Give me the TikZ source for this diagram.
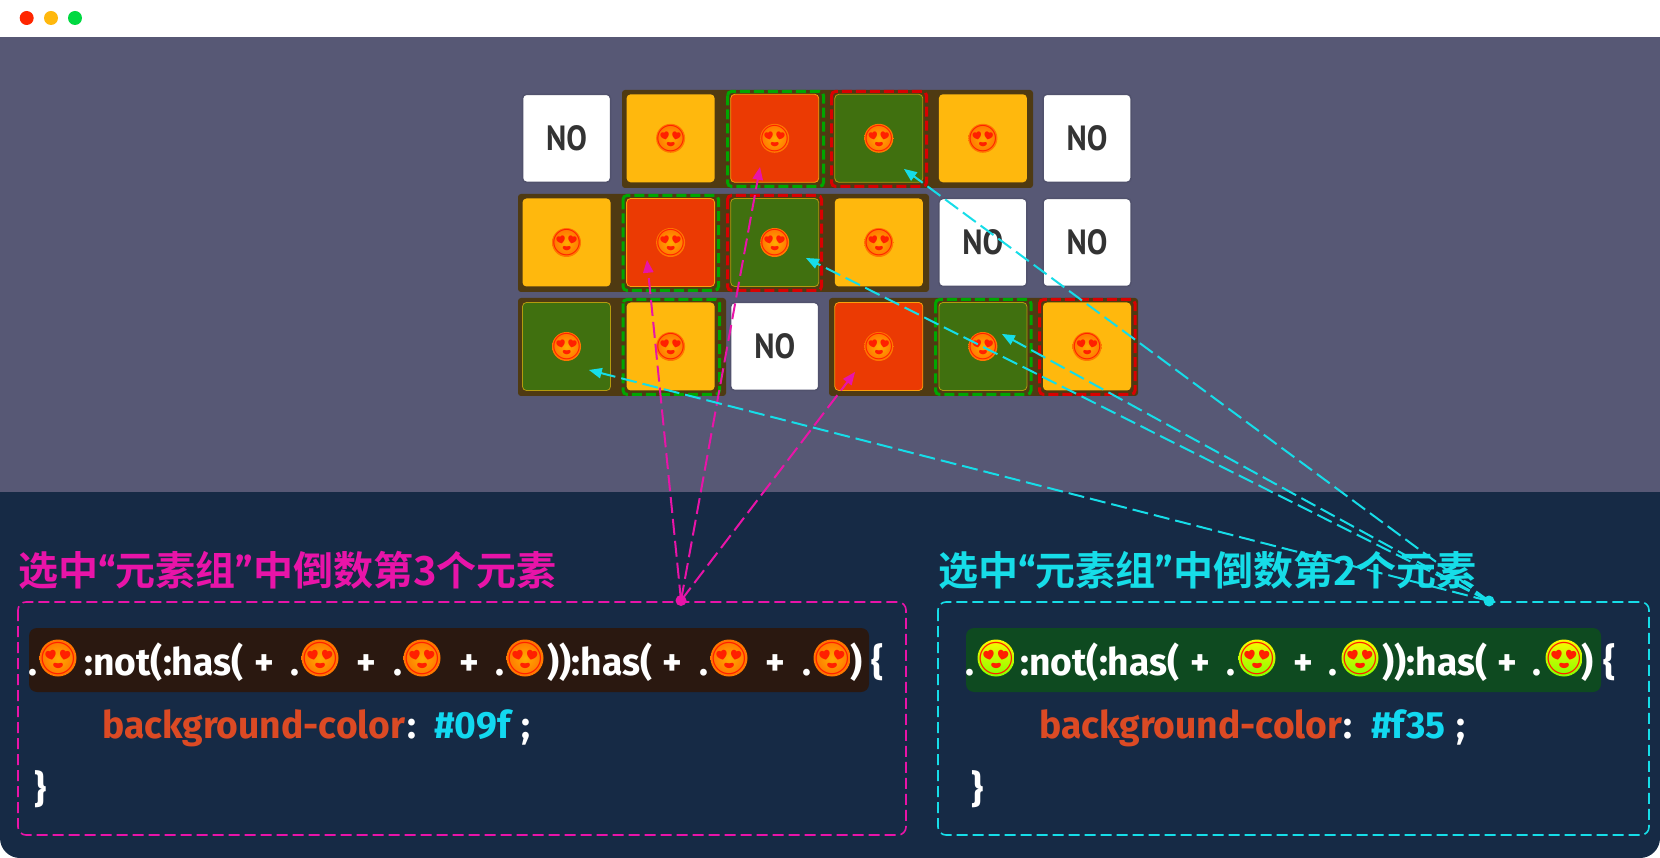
\documentclass[tikz,border=0pt]{standalone}
\usepackage{fontspec}
\setmainfont{Fira Sans}[FakeStretch=0.98,BoldFont=* Bold]
\newfontfamily\cjkfont{Noto Sans CJK SC Bold}
\newfontfamily\emojifont{Noto Emoji}
\newfontfamily\cellfont{PT Sans Bold}[FakeStretch=0.88]
\usetikzlibrary{arrows,calc,shapes.misc}

\definecolor{PanelTop}{HTML}{575875}
\definecolor{PanelLow}{HTML}{162A45}
\definecolor{CellY}{HTML}{FFB80D}
\definecolor{CellR}{HTML}{EB3A03}
\definecolor{CellG}{HTML}{40700F}
\definecolor{Halo}{HTML}{4F3A12}
\definecolor{Pink}{HTML}{E814A8}
\definecolor{Cyan}{HTML}{16DDE8}
\definecolor{KeyRed}{HTML}{DC4A24}
\definecolor{ValBlue}{HTML}{12D8F0}
\definecolor{BandL}{HTML}{2A1810}
\definecolor{BandR}{HTML}{0E4A20}

% glyph of the face, kept from taking any room in its node
\newcommand{\loveface}[1]{{\emojifont\fontsize{#1}{#1}\selectfont\makebox[0pt]{\raisebox{-0.36em}[0pt][0pt]{😍}}}}

\tikzset{
  cell/.style={rounded corners=4pt,minimum width=88pt,minimum height=88pt,inner sep=0pt,font=\fontsize{35}{35}\cellfont,text=black!80},
  nocell/.style={cell,fill=white,draw=PanelTop!93!black,line width=1.5pt},
  ycell/.style={cell,fill=CellY},
  rcell/.style={cell,fill=CellR,draw=CellY!80!CellR,line width=0.8pt},
  gcell/.style={cell,fill=CellG,draw=CellY!60!CellG,line width=0.8pt},
  band/.style={fill=Halo,rounded corners=3pt},
  dashgreen/.style={draw=green!65!black,line width=3pt,rounded corners=4pt,dash pattern=on 10pt off 4pt},
  dashred/.style={draw=red!85!black,line width=3pt,rounded corners=4pt,dash pattern=on 10pt off 4pt},
  face/.style={circle,inner sep=0pt,minimum size=29pt,text=red!75!orange,shading=radial,inner color=orange!65!yellow,outer color=orange!90!red},
  bigface/.style={face,minimum size=37pt},
  greenface/.style={circle,inner sep=0pt,minimum size=37pt,text=red!75!orange,shading=axis,top color=yellow!95!orange,bottom color=lime!70!green},
  code/.style={inner sep=0pt,anchor=base,font=\fontsize{38}{38}\selectfont\bfseries,text=white},
  title/.style={inner sep=0pt,anchor=base west,font=\fontsize{40}{40}\cjkfont},
  link/.style={->,>=triangle 45,line width=2pt,dash pattern=on 16pt off 6pt},
}

\begin{document}
\begin{tikzpicture}[x=1pt,y=-1pt]
\useasboundingbox (0,0) rectangle (1660,858);

% window
\fill[white] (0,0) rectangle (1660,858);
\fill[PanelTop] (0,37) rectangle (1660,493);
\fill[PanelLow,rounded corners=20pt] (0,492) -- (0,858) -- (1660,858) -- (1660,492) -- cycle;
\fill[PanelLow] (0,492) rectangle (1660,520);
\fill[red!70!orange] (26.7,18) circle (7);
\fill[CellY] (51,18) circle (7);
\fill[green!70!cyan!85!black] (75,18) circle (7);

% bands behind the cells
\fill[band] (622,90) rectangle (1033,188);
\fill[band] (518,194) rectangle (929,292);
\fill[band] (518,298) rectangle (726,396);
\fill[band] (829,298) rectangle (1138,396);

% first row
\node[nocell] (a1) at (566.5,138.3) {NO};
\node[ycell] (a2) at (670.6,138.3) {};
\node[rcell] (a3) at (774.7,138.3) {};
\node[gcell] (a4) at (878.8,138.3) {};
\node[ycell] (a5) at (982.9,138.3) {};
\node[nocell] (a6) at (1087,138.3) {NO};

% second row
\node[ycell] (b1) at (566.5,242.5) {};
\node[rcell] (b2) at (670.6,242.5) {};
\node[gcell] (b3) at (774.7,242.5) {};
\node[ycell] (b4) at (878.8,242.5) {};
\node[nocell] (b5) at (982.9,242.5) {NO};
\node[nocell] (b6) at (1087,242.5) {NO};

% third row
\node[gcell] (c1) at (566.5,346.5) {};
\node[ycell] (c2) at (670.6,346.5) {};
\node[nocell] (c3) at (774.7,346.5) {NO};
\node[rcell] (c4) at (878.8,346.5) {};
\node[gcell] (c5) at (982.9,346.5) {};
\node[ycell] (c6) at (1087,346.5) {};

% dashed outlines
\draw[dashgreen] (727.5,91.5) rectangle (823.5,186.5);
\draw[dashred] (831.5,91.5) rectangle (926.5,186.5);
\draw[dashgreen] (623,195.5) rectangle (718.5,290.5);
\draw[dashred] (727.5,195.5) rectangle (821.5,290.5);
\draw[dashgreen] (623,299.5) rectangle (719.5,394.5);
\draw[dashgreen] (935.5,299.5) rectangle (1031,394.5);
\draw[dashred] (1039.5,299.5) rectangle (1135,394.5);

% faces in the cells
\node[face] (fa2) at (a2) {\loveface{26}};
\node[face] (fa3) at (a3) {\loveface{26}};
\node[face] (fa4) at (a4) {\loveface{26}};
\node[face] (fa5) at (a5) {\loveface{26}};
\node[face] (fb1) at (b1) {\loveface{26}};
\node[face] (fb2) at (b2) {\loveface{26}};
\node[face] (fb3) at (b3) {\loveface{26}};
\node[face] (fb4) at (b4) {\loveface{26}};
\node[face] (fc1) at (c1) {\loveface{26}};
\node[face] (fc2) at (c2) {\loveface{26}};
\node[face] (fc4) at (c4) {\loveface{26}};
\node[face] (fc5) at (c5) {\loveface{26}};
\node[face] (fc6) at (c6) {\loveface{26}};

% titles
\node[title,text=Pink] (titleL) at (18,585) {选中{\rmfamily\bfseries “}元素组{\rmfamily\bfseries ”}中倒数第3个元素};
\node[title,text=Cyan] (titleR) at (938,585) {选中{\rmfamily\bfseries “}元素组{\rmfamily\bfseries ”}中倒数第2个元素};

% boxes
\draw[Pink,line width=1.6pt,rounded corners=8pt,dash pattern=on 11pt off 5pt] (18,602) rectangle (906,835);
\draw[Cyan,line width=1.6pt,rounded corners=8pt,dash pattern=on 11pt off 5pt] (938,602) rectangle (1649,835);
\fill[BandL,rounded corners=8pt] (29,628) rectangle (869,692);
\fill[BandR,rounded corners=8pt] (966,628) rectangle (1601,692);

% left rule
\node[code] (l1) at (33,675) {.};
\node[bigface] (l2) at (58,658) {\loveface{32}};
\node[code] (l3) at (164,675) {:not(:has(};
\node[code] (l4) at (264,675) {+};
\node[code] (l5) at (295,675) {.};
\node[bigface] (l6) at (320,658) {\loveface{32}};
\node[code] (l7) at (366,675) {+};
\node[code] (l8) at (398,675) {.};
\node[bigface] (l9) at (422,658) {\loveface{32}};
\node[code] (l10) at (469,675) {+};
\node[code] (l11) at (500,675) {.};
\node[bigface] (l12) at (525,658) {\loveface{32}};
\node[code] (l13) at (600,675) {)):has(};
\node[code] (l14) at (672,675) {+};
\node[code] (l15) at (704,675) {.};
\node[bigface] (l16) at (729,658) {\loveface{32}};
\node[code] (l17) at (775,675) {+};
\node[code] (l18) at (807,675) {.};
\node[bigface] (l19) at (832,658) {\loveface{32}};
\node[code] (l20) at (857,675) {)};
\node[code] (l21) at (878,675) {\{};
\node[code,anchor=base west,text=KeyRed] (l22) at (102,738) {background-color};
\node[code] (l23) at (412,738) {:};
\node[code,anchor=base west,text=ValBlue] (l24) at (434,738) {\#09f};
\node[code] (l25) at (526,738) {;};
\node[code] (l26) at (41,802) {\}};

% right rule
\node[code] (r1) at (970,675) {.};
\node[greenface] (r2) at (996,658) {\loveface{32}};
\node[code] (r3) at (1100,675) {:not(:has(};
\node[code] (r4) at (1200,675) {+};
\node[code] (r5) at (1231,675) {.};
\node[greenface] (r6) at (1257,658) {\loveface{32}};
\node[code] (r7) at (1303,675) {+};
\node[code] (r8) at (1333,675) {.};
\node[greenface] (r9) at (1360,658) {\loveface{32}};
\node[code] (r10) at (1435,675) {)):has(};
\node[code] (r11) at (1507,675) {+};
\node[code] (r12) at (1537,675) {.};
\node[greenface] (r13) at (1564,658) {\loveface{32}};
\node[code] (r14) at (1588,675) {)};
\node[code] (r15) at (1610,675) {\{};
\node[code,anchor=base west,text=KeyRed] (r16) at (1039,738) {background-color};
\node[code] (r17) at (1348,738) {:};
\node[code,anchor=base west,text=ValBlue] (r18) at (1371,738) {\#f35};
\node[code] (r19) at (1461,738) {;};
\node[code] (r20) at (978,802) {\}};

% pink links
\node[circle,fill=Pink,minimum size=11pt,inner sep=0pt] (dotL) at (681,600.5) {};
\coordinate (tipL1) at (760,167);
\coordinate (tipL2) at (647,260);
\coordinate (tipL3) at (855,372);
\draw[link,Pink] (dotL.center) -- (tipL1);
\draw[link,Pink] (dotL.center) -- (tipL2);
\draw[link,Pink] (dotL.center) -- (tipL3);

% cyan links
\node[circle,fill=Cyan,minimum size=11pt,inner sep=0pt] (dotR) at (1489,601) {};
\coordinate (tipR1) at (904,169);
\coordinate (tipR2) at (806,258);
\coordinate (tipR3) at (1002,334);
\coordinate (tipR4) at (589,370);
\draw[link,Cyan] (dotR.center) -- (tipR1);
\draw[link,Cyan] (dotR.center) -- (tipR2);
\draw[link,Cyan] (dotR.center) -- (tipR3);
\draw[link,Cyan] (dotR.center) -- (tipR4);
\end{tikzpicture}
\end{document}
